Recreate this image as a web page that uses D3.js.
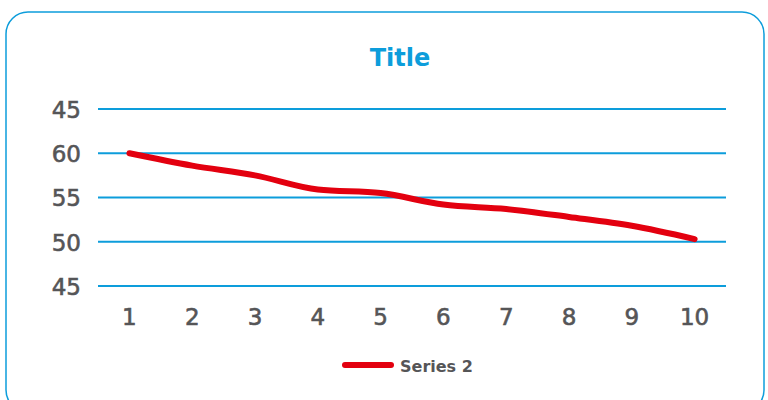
<!DOCTYPE html>
<html>
<head>
<meta charset="utf-8">
<script src="https://cdn.jsdelivr.net/npm/d3@7"></script>
<style>
  body { margin: 0; background: #fff; }
  svg { display: block; font-family: "DejaVu Sans", sans-serif; }
</style>
</head>
<body>
<svg id="chart" width="768" height="400"></svg>
<script>
const categories = ["1", "2", "3", "4", "5", "6", "7", "8", "9", "10"];
const series2 = [60.0, 58.6, 57.5, 55.9, 55.5, 54.2, 53.7, 52.8, 51.8, 50.3];
const yTicks = [45, 50, 55, 60, 65];
const yTickLabels = ["45", "50", "55", "60", "45"];

const svg = d3.select("#chart");
const blue = "#0d9ddb";
const grey = "#555557";

svg
  .append("rect")
  .attr("x", 6)
  .attr("y", 12)
  .attr("width", 758)
  .attr("height", 400)
  .attr("rx", 22)
  .attr("fill", "none")
  .attr("stroke", blue)
  .attr("stroke-width", 1.5);

svg
  .append("text")
  .attr("x", 400)
  .attr("y", 66)
  .attr("text-anchor", "middle")
  .attr("fill", blue)
  .attr("font-size", 24)
  .attr("font-weight", "bold")
  .text("Title");

const xScale = d3.scaleBand().domain(categories).range([98, 726]);
const yScale = d3.scaleLinear().domain([45, 65]).range([286, 109]);

// gridlines
svg
  .append("g")
  .selectAll("line")
  .data(yTicks)
  .join("line")
  .attr("x1", 98)
  .attr("x2", 726)
  .attr("y1", (d) => yScale(d))
  .attr("y2", (d) => yScale(d))
  .attr("stroke", blue)
  .attr("stroke-width", 1.8);

const yAxis = svg
  .append("g")
  .attr("transform", "translate(84,0)")
  .call(
    d3
      .axisLeft(yScale)
      .tickValues(yTicks)
      .tickSize(0)
      .tickFormat((d, i) => yTickLabels[i]),
  );
yAxis.select(".domain").remove();
yAxis
  .selectAll("text")
  .attr("fill", grey)
  .attr("stroke", grey)
  .attr("stroke-width", 0.6)
  .attr("font-size", 23)
  .attr("font-family", "DejaVu Sans, sans-serif")
  .attr("dy", "0.36em");

const xAxis = svg
  .append("g")
  .attr("transform", "translate(0,306)")
  .call(d3.axisBottom(xScale).tickSize(0));
xAxis.select(".domain").remove();
xAxis
  .selectAll("text")
  .attr("fill", grey)
  .attr("stroke", grey)
  .attr("stroke-width", 0.6)
  .attr("font-size", 23)
  .attr("font-family", "DejaVu Sans, sans-serif")
  .attr("dy", "0.71em");

const line = d3
  .line()
  .x((d, i) => xScale(categories[i]) + xScale.bandwidth() / 2)
  .y((d) => yScale(d))
  .curve(d3.curveMonotoneX);

svg
  .append("path")
  .datum(series2)
  .attr("d", line)
  .attr("fill", "none")
  .attr("stroke", "#e3000f")
  .attr("stroke-width", 6)
  .attr("stroke-linecap", "round")
  .attr("stroke-linejoin", "round");

// legend
svg
  .append("line")
  .attr("x1", 345)
  .attr("x2", 391)
  .attr("y1", 365)
  .attr("y2", 365)
  .attr("stroke", "#e3000f")
  .attr("stroke-width", 6)
  .attr("stroke-linecap", "round");

svg
  .append("text")
  .attr("x", 400)
  .attr("y", 372)
  .attr("fill", grey)
  .attr("font-size", 16)
  .attr("font-weight", "bold")
  .text("Series 2");
</script>
</body>
</html>
